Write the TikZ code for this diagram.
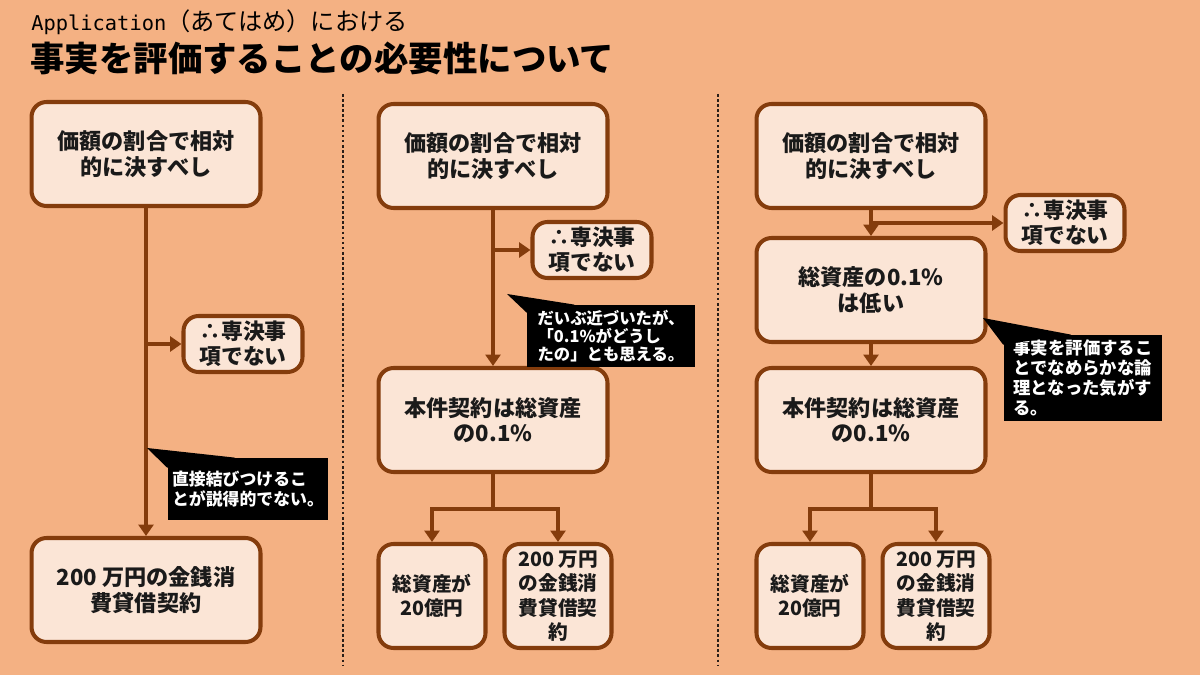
\documentclass[tikz,border=0pt]{standalone}
\usepackage{fontspec}
\setmainfont{Noto Sans CJK JP}
\newfontfamily\monofont{DejaVu Sans Mono}
\usetikzlibrary{arrows.meta,calc}
\definecolor{bg}{HTML}{F4B183}
\definecolor{boxfill}{HTML}{FBE5D6}
\definecolor{brd}{HTML}{843C0C}
\definecolor{ink}{HTML}{1A1A1A}
\definecolor{sepcol}{HTML}{2A1E18}
\begin{document}
\begin{tikzpicture}[x=0.02cm,y=-0.02cm,
  box/.style={draw=brd, fill=boxfill, line width=2.3pt, rounded corners=0.3cm,
    align=center, text=ink, inner sep=0pt},
  big/.style={box, minimum width=4.58cm, minimum height=2.08cm,
    font=\fontsize{12.6}{14.4}\selectfont\bfseries},
  mid/.style={box, minimum width=2.38cm, minimum height=1.12cm,
    font=\fontsize{12.4}{14.2}\selectfont\bfseries},
  small/.style={box, minimum width=2.14cm, minimum height=2.08cm,
    font=\fontsize{11.2}{13.9}\selectfont\bfseries},
  note/.style={fill=black, text=white, align=left, inner sep=0pt,
    font=\fontsize{9.6}{11.3}\selectfont\bfseries},
  arr/.style={draw=brd, line width=2.2pt, -{Triangle[length=6.5pt,width=8.5pt]}},
  sep/.style={draw=sepcol, line width=1.5pt, dash pattern=on 1.5pt off 1.4pt}
]
\useasboundingbox[fill=bg] (0,0) rectangle (1200,675);

% titles
\node[anchor=west, inner sep=0pt, text=black] (t1) at (31,22)
  {{\monofont\fontsize{11.6}{13}\selectfont Application}{\fontsize{13.8}{16}\selectfont （あてはめ）における}};
\node[anchor=west, inner sep=0pt, text=black, font=\fontsize{19.6}{22}\selectfont\bfseries] (t2) at (30,58)
  {事実を評価することの必要性について};

% separators
\draw[sep] (343,94) -- (343,666);
\draw[sep] (718,94) -- (718,666);

% ---------------- column 1
\node[big] (a1) at (146,154) {価額の割合で相対\\的に決すべし};
\node[mid] (a2) at (243,344) {∴専決事\\項でない};
\node[big] (a3) at (146,590) {200 万円の金銭消\\費貸借契約};
\draw[arr] (a1.south) -- (a3.north);
\draw[arr] (a1.south |- a2.west) -- (a2.west);
\coordinate (p1) at (147,448);
\node[note, minimum width=3.22cm, minimum height=1.24cm] (k1) at (248,489)
  {直接結びつけるこ\\とが説得的でない。};
\fill[black] (p1) -- ($(k1.north west)+(0,10)$) -- ($(k1.north west)+(68,0)$) -- cycle;

% ---------------- column 2
\node[big] (b1) at (493,156) {価額の割合で相対\\的に決すべし};
\node[mid] (b2) at (592,250) {∴専決事\\項でない};
\node[big] (b3) at (493,420) {本件契約は総資産\\の0.1\%};
\node[small] (b4) at (432,596) {総資産が\\20億円};
\node[small] (b5) at (558,596) {200 万円\\の金銭消\\費貸借契\\約};
\draw[arr] (b1.south) -- (b3.north);
\draw[arr] (b1.south |- b2.west) -- (b2.west);
\coordinate (s2) at (493,509);
\draw[arr] (b3.south) -- (s2) -| (b4.north);
\draw[arr] (b3.south) -- (s2) -| (b5.north);
\coordinate (p2) at (507,294);
\node[note, minimum width=3.36cm, minimum height=1.24cm,
  font=\fontsize{9.3}{10.4}\selectfont\bfseries] (k2) at (611,336)
  {だいぶ近づいたが、\\「0.1\%がどうし\\たの」とも思える。};
\fill[black] (p2) -- ($(k2.north west)+(0,8)$) -- ($(k2.north west)+(48,0)$) -- cycle;

% ---------------- column 3
\node[big] (c1) at (871,156) {価額の割合で相対\\的に決すべし};
\node[mid] (c2) at (1065,223) {∴専決事\\項でない};
\node[big] (c3) at (871,290) {総資産の0.1\%\\は低い};
\node[big] (c4) at (871,420) {本件契約は総資産\\の0.1\%};
\node[small] (c5) at (810,596) {総資産が\\20億円};
\node[small] (c6) at (936,596) {200 万円\\の金銭消\\費貸借契\\約};
\draw[arr] (c1.south) -- (c3.north);
\draw[arr] (c1.south |- c2.west) -- (c2.west);
\draw[arr] (c3.south) -- (c4.north);
\coordinate (s3) at (871,509);
\draw[arr] (c4.south) -- (s3) -| (c5.north);
\draw[arr] (c4.south) -- (s3) -| (c6.north);
\coordinate (p3) at (983,318);
\node[note, minimum width=3.18cm, minimum height=1.72cm,
  font=\fontsize{9.9}{11.3}\selectfont\bfseries] (k3) at (1083,378)
  {事実を評価するこ\\とでなめらかな論\\理となった気がす\\る。};
\fill[black] (p3) -- ($(k3.north west)+(0,10)$) -- ($(k3.north west)+(68,0)$) -- cycle;
\end{tikzpicture}
\end{document}
